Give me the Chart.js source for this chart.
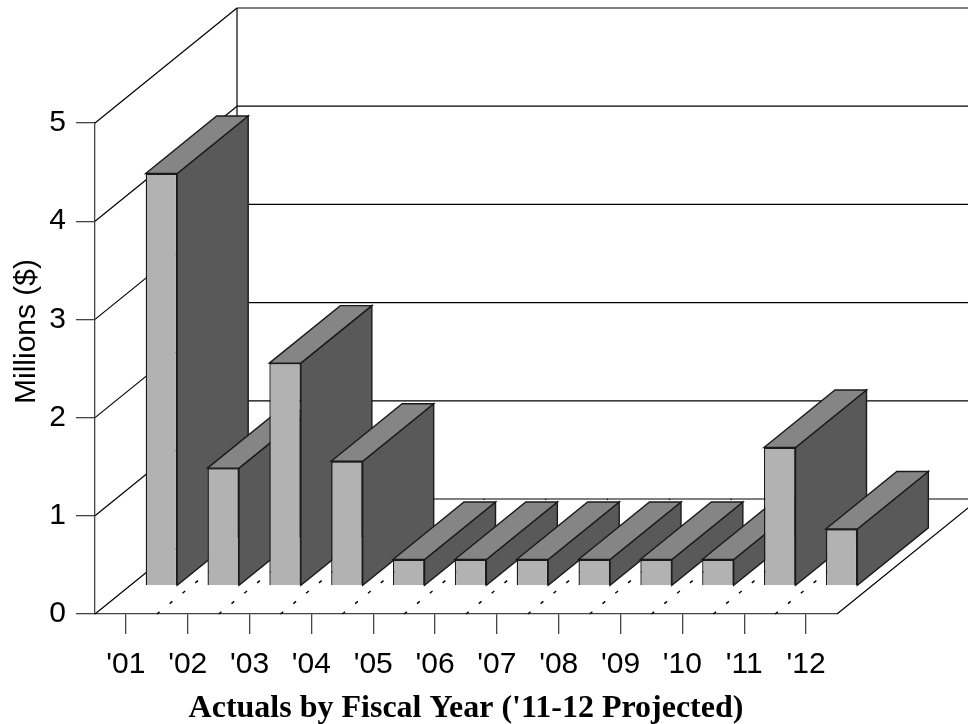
<!DOCTYPE html>
<html>
<head>
<meta charset="utf-8">
<title>Actuals by Fiscal Year</title>
<script src="https://cdn.jsdelivr.net/npm/chart.js@4/dist/chart.umd.js"></script>
<style>
  html, body { margin: 0; padding: 0; background: #fff; }
  canvas { display: block; }
</style>
</head>
<body>
<canvas id="chart" width="968" height="724"></canvas>
<script>
const years = ["'01", "'02", "'03", "'04", "'05", "'06", "'07", "'08", "'09", "'10", "'11", "'12"];
const actuals = [4.2, 1.2, 2.27, 1.27, 0.27, 0.27, 0.27, 0.27, 0.27, 0.27, 1.41, 0.58];
const valueTicks = [0, 1, 2, 3, 4, 5];

// depth of the floor in pixels, bars sit in the middle half of it
const DEPTH_X = 142;
const DEPTH_Y = -115;
const BAR_SHIFT_X = 35.5;
const BAR_SHIFT_Y = -28;

const FONT_SANS = '"Liberation Sans", Arial, sans-serif';
const FONT_SERIF = '"Liberation Serif", "Times New Roman", serif';

function fillFace(ctx, points, color) {
  ctx.beginPath();
  points.forEach(([x, y], i) => i ? ctx.lineTo(x, y) : ctx.moveTo(x, y));
  ctx.closePath();
  ctx.fillStyle = color;
  ctx.fill();
  ctx.stroke();
}

class Bar3DElement extends Chart.BarElement {
  static id = 'bar3d';

  draw(ctx) {
    const left = this.x - this.width / 2;
    const right = this.x + this.width / 2;
    const top = this.y;
    const base = this.base;
    const dx = DEPTH_X / 2;
    const dy = DEPTH_Y / 2;

    ctx.save();
    ctx.translate(BAR_SHIFT_X, BAR_SHIFT_Y);
    ctx.lineWidth = 1.4;
    ctx.strokeStyle = '#1a1a1a';
    fillFace(ctx, [[right, top], [right + dx, top + dy], [right + dx, base + dy], [right, base]], '#595959');
    fillFace(ctx, [[left, top], [left + dx, top + dy], [right + dx, top + dy], [right, top]], '#858585');
    super.draw(ctx);
    ctx.restore();
  }
}

class Bar3DController extends Chart.BarController {
  static id = 'bar3d';
  static defaults = { ...Chart.BarController.defaults, dataElementType: 'bar3d' };
}

Chart.register(Bar3DElement, Bar3DController);

// back wall, floor and the dashed floor lines
const wallPlugin = {
  id: 'wall',
  beforeDatasetsDraw(chart) {
    const { ctx, scales: { x, y }, chartArea, width } = chart;
    const floorY = y.getPixelForValue(0);
    const topY = y.getPixelForValue(valueTicks[valueTicks.length - 1]);
    const wallX = chartArea.left + DEPTH_X;

    ctx.save();
    ctx.strokeStyle = '#000';
    ctx.lineWidth = 1.2;

    const line = (x0, y0, x1, y1) => {
      ctx.beginPath();
      ctx.moveTo(x0, y0);
      ctx.lineTo(x1, y1);
      ctx.stroke();
    };

    valueTicks.forEach(v => {
      const py = y.getPixelForValue(v);
      line(chartArea.left, py, wallX, py + DEPTH_Y);
      line(wallX, py + DEPTH_Y, width, py + DEPTH_Y);
    });
    line(wallX, topY + DEPTH_Y, wallX, floorY + DEPTH_Y);
    line(chartArea.right, floorY, chartArea.right + DEPTH_X, floorY + DEPTH_Y);

    // one dashed line on each category boundary
    ctx.setLineDash([3.5, 13]);
    ctx.lineWidth = 1.4;
    years.forEach((label, i) => {
      if (i === 0) return;
      const px = (x.getPixelForValue(i - 1) + x.getPixelForValue(i)) / 2;
      line(px, floorY, px + DEPTH_X, floorY + DEPTH_Y);
    });
    ctx.restore();
  },
  afterDraw(chart) {
    const { ctx } = chart;
    ctx.save();
    ctx.translate(35, 331.5);
    ctx.rotate(-Math.PI / 2);
    ctx.font = '30px ' + FONT_SANS;
    ctx.fillStyle = '#000';
    ctx.textAlign = 'center';
    ctx.textBaseline = 'alphabetic';
    ctx.fillText('Millions ($)', 0, 0);
    ctx.restore();
  }
};

new Chart(document.getElementById('chart'), {
  type: 'bar3d',
  data: {
    labels: years,
    datasets: [{
      label: 'Actuals',
      data: actuals,
      backgroundColor: '#b2b2b2',
      borderColor: '#1a1a1a',
      borderWidth: 1.4,
      categoryPercentage: 1,
      barPercentage: 0.51,
      clip: false
    }]
  },
  options: {
    responsive: false,
    animation: false,
    layout: { padding: { top: 123, right: 131, left: 0, bottom: 0 } },
    plugins: { legend: { display: false }, tooltip: { enabled: false } },
    scales: {
      x: {
        type: 'category',
        afterFit: s => { s.height = 110; },
        grid: { offset: false, drawOnChartArea: false, tickLength: 20, color: '#444', lineWidth: 1.3 },
        border: { color: '#444', width: 1.3 },
        ticks: { color: '#000', font: { family: FONT_SANS, size: 30 }, padding: 13, maxRotation: 0, autoSkip: false },
        title: {
          display: true,
          text: "Actuals by Fiscal Year ('11-12 Projected)",
          color: '#000',
          font: { family: FONT_SERIF, size: 32, weight: 'bold' },
          padding: { top: 0, bottom: -4 }
        }
      },
      y: {
        type: 'linear',
        min: 0,
        max: 5,
        afterFit: s => { s.width = 95; },
        grid: { drawOnChartArea: false, tickLength: 19, color: '#444', lineWidth: 1.3 },
        border: { color: '#444', width: 1.3 },
        ticks: { stepSize: 1, color: '#000', font: { family: FONT_SANS, size: 30 }, padding: 10 }
      }
    }
  },
  plugins: [wallPlugin]
});
</script>
</body>
</html>
